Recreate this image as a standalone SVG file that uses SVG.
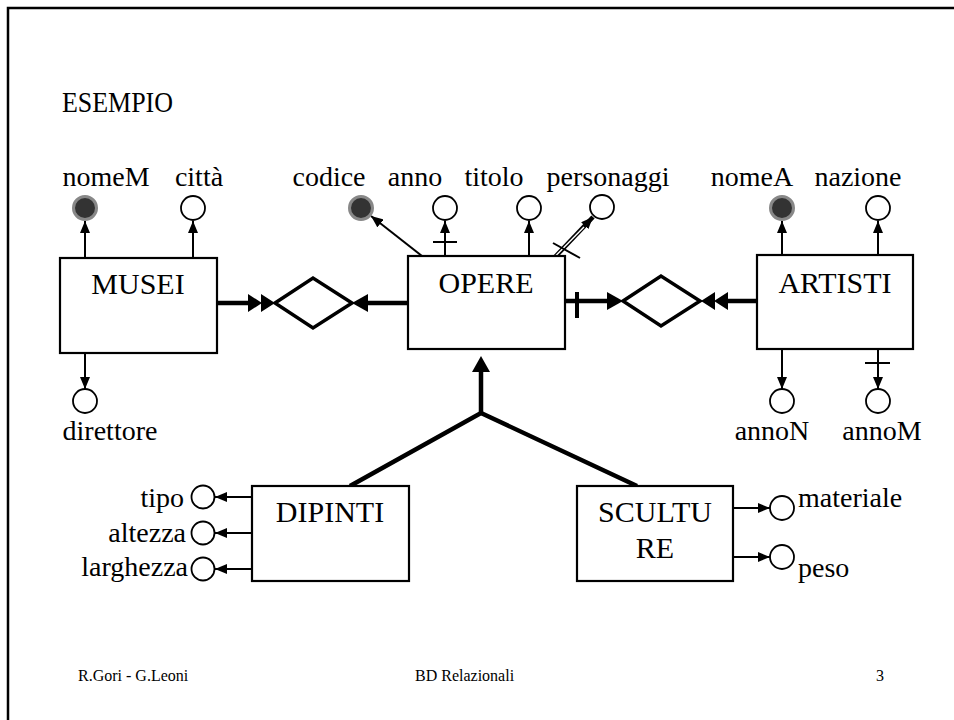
<svg xmlns="http://www.w3.org/2000/svg" width="954" height="720" viewBox="0 0 954 720">
<defs>
<style>
text{font-family:"Liberation Serif","Times New Roman","DejaVu Serif",serif;fill:#000}
.lab{font-size:28px}
.box{fill:#fff;stroke:#000;stroke-width:2.2}
.ent{font-size:30px;text-anchor:middle}
.ac{fill:#fff;stroke:#000;stroke-width:1.8}
.key{fill:#333;stroke:#888;stroke-width:3}
.th{stroke:#000;stroke-width:2;fill:none}
.tk{stroke:#000;stroke-width:4.5;fill:none}
.rel{fill:#fff;stroke:#000;stroke-width:3.5}
.ft{font-size:16px}
</style>
<marker id="a" viewBox="0 0 12 10" refX="12" refY="5" markerWidth="12" markerHeight="10" markerUnits="userSpaceOnUse" orient="auto"><path d="M0,0 L12,5 L0,10 z" fill="#000"/></marker>
<marker id="b" viewBox="0 0 16 18" refX="0" refY="9" markerWidth="16" markerHeight="18" markerUnits="userSpaceOnUse" orient="auto"><path d="M0,0 L16,9 L0,18 z" fill="#000"/></marker>
<marker id="d" viewBox="0 0 28 18" refX="0" refY="9" markerWidth="28" markerHeight="18" markerUnits="userSpaceOnUse" orient="auto"><path d="M0,0 L14,9 L0,18 z M13,0 L27,9 L13,18 z" fill="#000"/></marker>
</defs>
<rect width="954" height="720" fill="#fff"/>
<path d="M8,720 L8,8 L954,8" fill="none" stroke="#000" stroke-width="2.5"/>
<g font-family="Liberation Serif, Times New Roman, serif">
<text x="62" y="112" font-size="30" textLength="111" lengthAdjust="spacingAndGlyphs">ESEMPIO</text>

<g id="connectors">
<line class="th" x1="85" y1="258" x2="85" y2="221" marker-end="url(#a)"/>
<line class="th" x1="193" y1="258" x2="193" y2="221" marker-end="url(#a)"/>
<line class="th" x1="85" y1="353" x2="85" y2="389" marker-end="url(#a)"/>
<line class="th" x1="422" y1="256" x2="371" y2="216" marker-end="url(#a)"/>
<line class="th" x1="445" y1="256" x2="445" y2="221" marker-end="url(#a)"/>
<line class="th" x1="433" y1="242" x2="457" y2="242"/>
<line class="th" x1="529" y1="256" x2="529" y2="221" marker-end="url(#a)"/>
<line stroke="#000" stroke-width="4.5" x1="555" y1="257" x2="593" y2="217" marker-end="url(#a)"/>
<line stroke="#fff" stroke-width="1.4" x1="556" y1="255.5" x2="584" y2="227"/>
<line class="th" x1="553" y1="243" x2="580" y2="258"/>
<line class="th" x1="782" y1="255" x2="782" y2="221" marker-end="url(#a)"/>
<line class="th" x1="878" y1="255" x2="878" y2="221" marker-end="url(#a)"/>
<line class="th" x1="782" y1="349" x2="782" y2="389" marker-end="url(#a)"/>
<line class="th" x1="878" y1="349" x2="878" y2="389" marker-end="url(#a)"/>
<line class="th" x1="865" y1="363" x2="890" y2="363"/>
<line class="th" x1="252" y1="497" x2="215" y2="497" marker-end="url(#a)"/>
<line class="th" x1="252" y1="533" x2="215" y2="533" marker-end="url(#a)"/>
<line class="th" x1="252" y1="569" x2="215" y2="569" marker-end="url(#a)"/>
<line class="th" x1="733" y1="508" x2="770" y2="508" marker-end="url(#a)"/>
<line class="th" x1="733" y1="557" x2="770" y2="557" marker-end="url(#a)"/>
<line class="tk" x1="217" y1="303" x2="248" y2="303" marker-end="url(#d)"/>
<line class="tk" x1="408" y1="303" x2="368" y2="303" marker-end="url(#b)"/>
<line class="tk" x1="565" y1="301" x2="607" y2="301" marker-end="url(#b)"/>
<line stroke="#000" stroke-width="4" x1="577" y1="292" x2="577" y2="318"/>
<line class="tk" x1="757" y1="301" x2="728" y2="301" marker-end="url(#d)"/>
<polyline class="tk" points="350,486 481,413 637,486"/>
<line class="tk" x1="481" y1="413" x2="481" y2="372" marker-end="url(#b)"/>
</g>

<g id="rel-musei-opere"><polygon class="rel" points="275,303 313,278 352,303 313,328"/></g>
<g id="rel-opere-artisti"><polygon class="rel" points="623,301 661,276 700,301 661,326"/></g>

<g id="MUSEI"><rect class="box" x="60" y="258" width="157" height="95"/><text class="ent" x="138" y="294">MUSEI</text></g>
<g id="OPERE"><rect class="box" x="408" y="256" width="157" height="93"/><text class="ent" x="486" y="293">OPERE</text></g>
<g id="ARTISTI"><rect class="box" x="757" y="255" width="156" height="94"/><text class="ent" x="835" y="293">ARTISTI</text></g>
<g id="DIPINTI"><rect class="box" x="252" y="486" width="157" height="95"/><text class="ent" x="330" y="522">DIPINTI</text></g>
<g id="SCULTURE"><rect class="box" x="577" y="486" width="156" height="95"/><text class="ent" x="655" y="522">SCULTU</text><text class="ent" x="655" y="558">RE</text></g>

<g id="attr-nomeM"><circle class="key" cx="85" cy="208" r="11.5"/><text class="lab" x="106" y="186" text-anchor="middle">nomeM</text></g>
<g id="attr-citta"><circle class="ac" cx="193" cy="208" r="12"/><text class="lab" x="199" y="186" text-anchor="middle">città</text></g>
<g id="attr-direttore"><circle class="ac" cx="85" cy="401" r="12"/><text class="lab" x="110" y="440" text-anchor="middle">direttore</text></g>
<g id="attr-codice"><circle class="key" cx="361" cy="208" r="11.5"/><text class="lab" x="329" y="186" text-anchor="middle">codice</text></g>
<g id="attr-anno"><circle class="ac" cx="445" cy="208" r="12"/><text class="lab" x="415" y="186" text-anchor="middle">anno</text></g>
<g id="attr-titolo"><circle class="ac" cx="529" cy="208" r="12"/><text class="lab" x="494" y="186" text-anchor="middle">titolo</text></g>
<g id="attr-personaggi"><circle class="ac" cx="602" cy="207" r="12"/><text class="lab" x="608" y="186" text-anchor="middle">personaggi</text></g>
<g id="attr-nomeA"><circle class="key" cx="782" cy="208" r="11.5"/><text class="lab" x="752" y="186" text-anchor="middle">nomeA</text></g>
<g id="attr-nazione"><circle class="ac" cx="878" cy="208" r="12"/><text class="lab" x="858" y="186" text-anchor="middle">nazione</text></g>
<g id="attr-annoN"><circle class="ac" cx="782" cy="401" r="12"/><text class="lab" x="772" y="440" text-anchor="middle">annoN</text></g>
<g id="attr-annoM"><circle class="ac" cx="878" cy="401" r="12"/><text class="lab" x="882" y="440" text-anchor="middle">annoM</text></g>
<g id="attr-tipo"><circle class="ac" cx="203" cy="497" r="11.5"/><text class="lab" x="184" y="507" text-anchor="end">tipo</text></g>
<g id="attr-altezza"><circle class="ac" cx="203" cy="533" r="11.5"/><text class="lab" x="186" y="542" text-anchor="end">altezza</text></g>
<g id="attr-larghezza"><circle class="ac" cx="203" cy="569" r="11.5"/><text class="lab" x="188" y="576" text-anchor="end">larghezza</text></g>
<g id="attr-materiale"><circle class="ac" cx="782" cy="508" r="12"/><text class="lab" x="798" y="507">materiale</text></g>
<g id="attr-peso"><circle class="ac" cx="782" cy="557" r="12"/><text class="lab" x="798" y="577">peso</text></g>

<text class="ft" x="78" y="681">R.Gori - G.Leoni</text>
<text class="ft" x="415" y="681">BD Relazionali</text>
<text class="ft" x="876" y="681">3</text>
</g>
</svg>
